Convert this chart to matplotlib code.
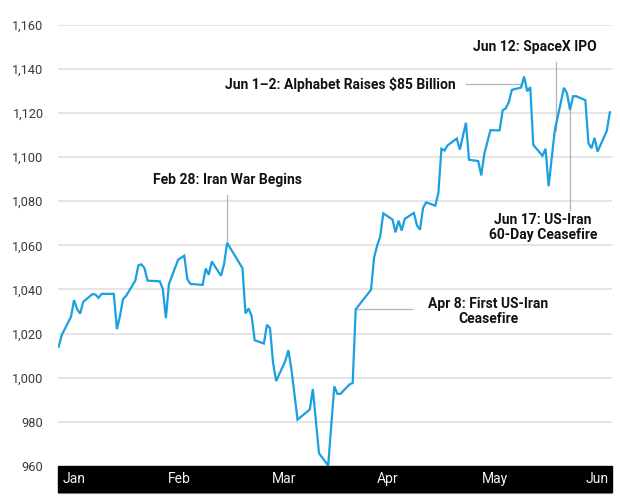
import numpy as np
import pandas as pd
import matplotlib
matplotlib.use("Agg")
import matplotlib.pyplot as plt
from matplotlib.patches import Rectangle

plt.rcParams['font.family'] = ['Roboto', 'DejaVu Sans']

# closing values (weekday dates, 2026)
dates = [
    "01-01", "01-02", "01-05", "01-06", "01-07", "01-08", "01-09", "01-12", "01-13", "01-14",
    "01-15", "01-19", "01-20", "01-21", "01-22", "01-23", "01-26", "01-27", "01-28", "01-29",
    "01-30", "02-03", "02-04", "02-05", "02-06", "02-09", "02-11", "02-12", "02-13", "02-17",
    "02-18", "02-19", "02-20", "02-23", "02-24", "02-25", "03-02", "03-03", "03-04", "03-05",
    "03-06", "03-09", "03-10", "03-11", "03-12", "03-13", "03-16", "03-17", "03-18", "03-20",
    "03-24", "03-25", "03-27", "03-30", "04-01", "04-02", "04-03", "04-06", "04-07", "04-08",
    "04-13", "04-14", "04-15", "04-16", "04-17", "04-20", "04-21", "04-22", "04-23", "04-24",
    "04-27", "04-28", "04-29", "04-30", "05-01", "05-04", "05-05", "05-06", "05-07", "05-08",
    "05-11", "05-12", "05-14", "05-15", "05-18", "05-19", "05-20", "05-22", "05-25", "05-26",
    "05-27", "05-28", "05-29", "06-01", "06-02", "06-03", "06-04", "06-05", "06-08", "06-09",
    "06-10", "06-12", "06-15", "06-16", "06-17", "06-18", "06-19", "06-22", "06-23", "06-24",
    "06-25", "06-26", "06-29", "06-30",
]
values = [
    1014.1, 1019.4, 1027.6, 1035.2, 1031.1, 1029.1, 1034.4, 1037.9, 1037.7, 1036.2,
    1038.0, 1038.0, 1022.0, 1028.0, 1035.6, 1037.1, 1044.0, 1050.9, 1051.4, 1049.7,
    1044.0, 1043.7, 1040.2, 1027.0, 1042.5, 1053.5, 1055.3, 1044.7, 1042.5, 1042.1,
    1049.5, 1046.7, 1052.7, 1046.2, 1051.5, 1061.1, 1049.7, 1029.1, 1031.4, 1028.0,
    1017.0, 1015.5, 1024.0, 1022.5, 1006.8, 998.5, 1007.6, 1012.5, 1003.8, 981.0,
    985.6, 994.9, 965.8, 960.2, 996.1, 992.7, 992.7, 997.0, 997.6, 1031.0,
    1039.9, 1054.5, 1059.9, 1064.0, 1074.5, 1071.7, 1065.9, 1071.2, 1066.7, 1072.0,
    1074.7, 1069.0, 1067.1, 1077.0, 1079.5, 1078.0, 1083.8, 1103.8, 1103.0, 1105.3,
    1108.4, 1103.4, 1115.6, 1098.8, 1098.2, 1091.7, 1101.5, 1112.2, 1112.1, 1121.2,
    1122.1, 1124.9, 1130.5, 1131.5, 1136.5, 1129.8, 1131.7, 1105.5, 1100.6, 1103.8,
    1086.8, 1112.0, 1131.4, 1128.9, 1121.4, 1127.6, 1127.6, 1125.8, 1106.3, 1104.0,
    1108.7, 1102.5, 1111.9, 1120.3,
]
months = ["Jan", "Feb", "Mar", "Apr", "May", "Jun"]
y_ticks = [960, 980, 1000, 1020, 1040, 1060, 1080, 1100, 1120, 1140, 1160]

BLUE = "#1a9fe0"
GRID = "#e3e3e3"
LEADER = "#b5b5b5"

base = pd.Timestamp("2026-01-01")
days = np.array([(pd.Timestamp("2026-" + d) - base).days for d in dates])
vals = np.array(values)

W, H = 620, 501
fig = plt.figure(figsize=(W / 100, H / 100), dpi=100)
ax_l, ax_r, ax_t, ax_b = 57.5, 612, 24.7, 466
ax = fig.add_axes([ax_l / W, 1 - ax_b / H, (ax_r - ax_l) / W, (ax_b - ax_t) / H])

ax.set_ylim(960, 1160)
ax.set_xlim(-0.4, 180.7)
ax.set_yticks(y_ticks)
ax.set_yticklabels([f"{t:,}" for t in y_ticks])
ax.tick_params(axis='y', length=0, pad=10, labelsize=9.2, labelcolor="#3a3a3a")
ax.set_xticks([])
for s in ax.spines.values():
    s.set_visible(False)
for t in y_ticks[1:]:
    ax.axhline(t, color=GRID, lw=1.3, zorder=0)

ax.plot(days, vals, color=BLUE, lw=1.6, zorder=3, solid_joinstyle="miter")

# annotations
bold = dict(fontweight="bold", fontsize=10, color="#111111")
i_feb = dates.index("02-25")
ax.plot([days[i_feb]] * 2, [vals[i_feb], 1082.6], color=LEADER, lw=0.9, zorder=2)
ax.text(days[i_feb], 1089.8, "Feb 28: Iran War Begins", ha="center", va="center", **bold)

i_apr = dates.index("04-08")
ax.plot([days[i_apr], 115.3], [vals[i_apr]] * 2, color=LEADER, lw=0.9, zorder=2)
ax.text(140.2, 1030.2, "Apr 8: First US-Iran\nCeasefire", ha="center", va="center",
        linespacing=1.1, **bold)

ax.plot([133.1, 151.3], [1132.9, 1132.9], color=LEADER, lw=0.9, zorder=2)
ax.text(129.5, 1132.9, "Jun 1\u20132: Alphabet Raises $85 Billion", ha="right", va="center", **bold)

i_jun12 = dates.index("06-12")
ax.plot([days[i_jun12] + 0.4] * 2, [vals[i_jun12], 1143.2], color=LEADER, lw=0.9, zorder=2)
ax.text(155.6, 1149.7, "Jun 12: SpaceX IPO", ha="center", va="center", **bold)

i_jun17 = dates.index("06-17")
ax.plot([days[i_jun17]] * 2, [vals[i_jun17], 1075.8], color=LEADER, lw=0.9, zorder=2)
ax.text(158.2, 1068.1, "Jun 17: US-Iran\n60-Day Ceasefire", ha="center", va="center",
        linespacing=1.1, **bold)

# black month band under the plot
fig.patches.append(Rectangle((58 / W, 1 - 492 / H), (612 - 58) / W, 26 / H,
                             transform=fig.transFigure, color="black", zorder=5))
fig.add_artist(plt.Line2D([58 / W, 612 / W], [1 - 492.5 / H] * 2, color="#999999", lw=0.8))
for k, m in enumerate(months):
    fig.text((63 + k * 104.6) / W, 1 - 479 / H, m, ha="left", va="center",
             fontsize=10, color="#f2f2f2", zorder=6)

fig.savefig("out.png", dpi=100, facecolor="white")
